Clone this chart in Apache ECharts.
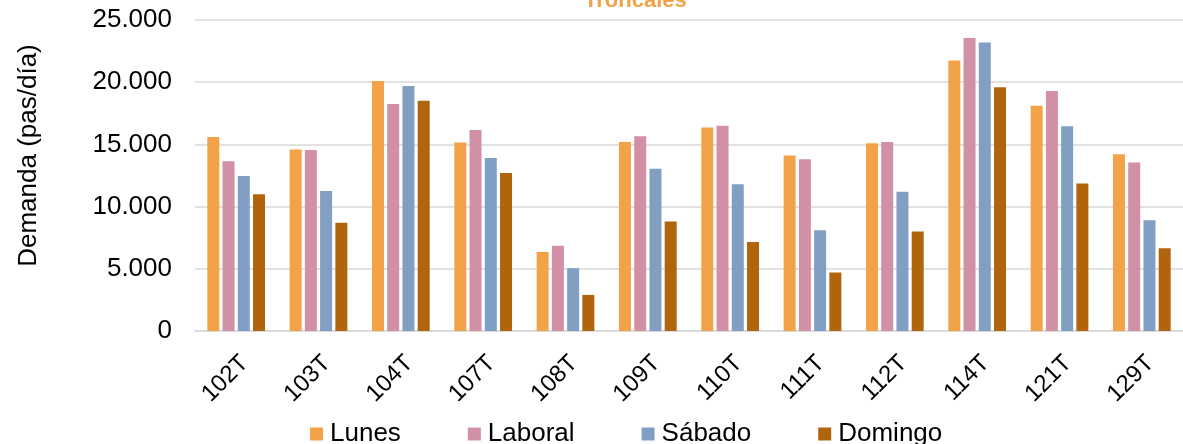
<!DOCTYPE html>
<html>
<head>
<meta charset="utf-8">
<script src="https://cdn.jsdelivr.net/npm/echarts@6/dist/echarts.min.js"></script>
<style>
  html, body { margin: 0; padding: 0; background: #fff; }
  #chart { width: 1183px; height: 444px; }
</style>
</head>
<body>
<div id="chart"></div>
<script>
var rutas = ['102T', '103T', '104T', '107T', '108T', '109T', '110T', '111T', '112T', '114T', '121T', '129T'];
var lunes   = [15600, 14600, 20100, 15150, 6350, 15200, 16350, 14100, 15100, 21750, 18100, 14200];
var laboral = [13650, 14550, 18250, 16150, 6850, 15650, 16500, 13800, 15200, 23550, 19300, 13550];
var sabado  = [12450, 11250, 19700, 13900, 5050, 13050, 11800, 8100, 11200, 23200, 16450, 8900];
var domingo = [11000, 8700, 18500, 12700, 2900, 8800, 7150, 4700, 8000, 19600, 11850, 6650];

var colores = ['#F2A348', '#D190A5', '#809FC2', '#B0650D'];
var fuente = '"Liberation Sans", Arial, sans-serif';

// separador de miles con punto
function miles(v) {
    return String(v).replace(/\B(?=(\d{3})+(?!\d))/g, '.');
}

function serie(nombre, datos) {
    return {
        name: nombre,
        type: 'bar',
        data: datos,
        barWidth: 12,
        barGap: '27%'
    };
}

var chart = echarts.init(document.getElementById('chart'));
chart.setOption({
    animation: false,
    color: colores,
    textStyle: { fontFamily: fuente },
    title: {
        text: 'Troncales',
        left: 584,
        top: -10,
        padding: 0,
        textStyle: { color: '#F2A348', fontSize: 22, fontWeight: 'bold', fontFamily: fuente }
    },
    legend: {
        left: 305,
        top: 416,
        itemWidth: 13,
        itemHeight: 13,
        itemGap: 67,
        icon: 'rect',
        textStyle: { fontSize: 26, color: '#000', fontFamily: fuente, padding: [0, 0, 0, 2] },
        data: ['Lunes', 'Laboral', 'Sábado', 'Domingo']
    },
    grid: { left: 195, top: 20, width: 1003, height: 311 },
    xAxis: {
        type: 'category',
        data: rutas,
        axisLine: { lineStyle: { color: '#D9D9D9', width: 1.5 } },
        axisTick: { show: false },
        axisLabel: {
            rotate: 45, fontSize: 24, color: '#000', margin: 20,
            verticalAlign: 'top', fontFamily: fuente
        }
    },
    yAxis: {
        type: 'value',
        min: 0,
        max: 25000,
        interval: 5000,
        name: 'Demanda (pas/día)',
        nameLocation: 'middle',
        nameGap: 153,
        nameTextStyle: { fontSize: 26, color: '#000', padding: [0, 0, 0, 40], fontFamily: fuente },
        axisLine: { show: false },
        axisTick: { show: false },
        splitLine: { lineStyle: { color: '#D9D9D9', width: 1.5 } },
        axisLabel: { fontSize: 26, color: '#000', margin: 23, formatter: miles, fontFamily: fuente }
    },
    series: [
        serie('Lunes', lunes),
        serie('Laboral', laboral),
        serie('Sábado', sabado),
        serie('Domingo', domingo)
    ]
});
</script>
</body>
</html>
